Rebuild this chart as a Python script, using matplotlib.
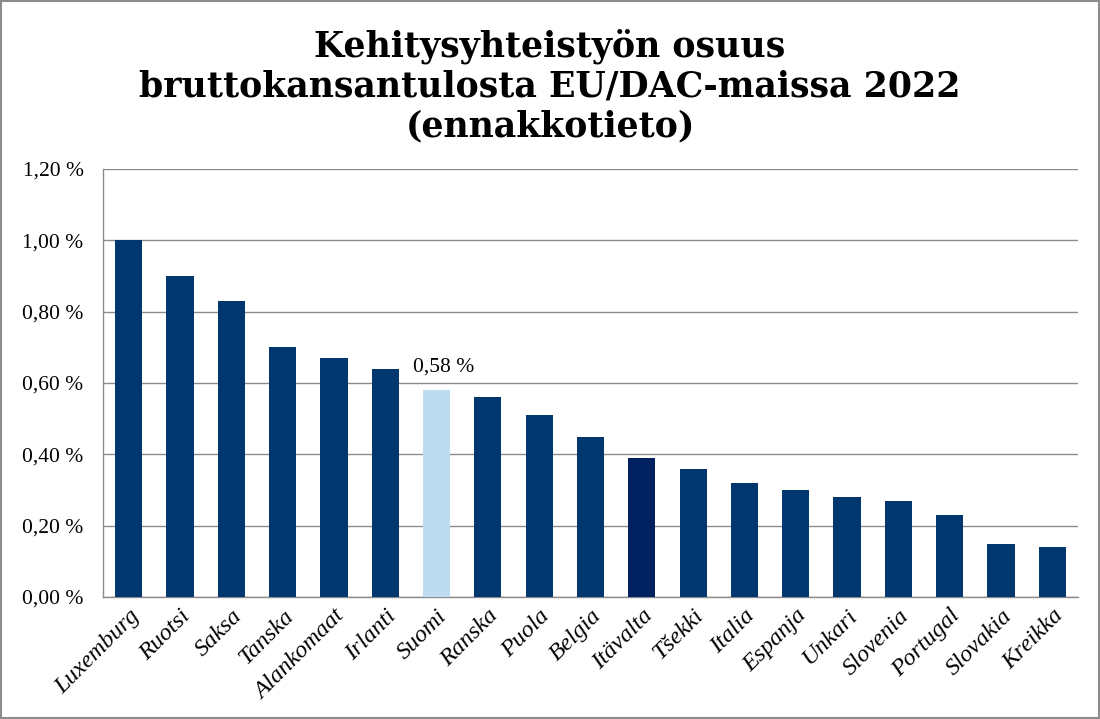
import matplotlib
matplotlib.use("Agg")
import matplotlib.pyplot as plt
from matplotlib.patches import Rectangle

countries = ["Luxemburg", "Ruotsi", "Saksa", "Tanska", "Alankomaat", "Irlanti", "Suomi",
             "Ranska", "Puola", "Belgia", "Itävalta", "Tšekki", "Italia", "Espanja",
             "Unkari", "Slovenia", "Portugal", "Slovakia", "Kreikka"]
values = [1.00, 0.90, 0.83, 0.70, 0.67, 0.64, 0.58, 0.56, 0.51, 0.45, 0.39, 0.36,
          0.32, 0.30, 0.28, 0.27, 0.23, 0.15, 0.14]
yticks = [0.0, 0.2, 0.4, 0.6, 0.8, 1.0, 1.2]
ytick_labels = ["0,00 %", "0,20 %", "0,40 %", "0,60 %", "0,80 %", "1,00 %", "1,20 %"]
title = "Kehitysyhteistyön osuus\nbruttokansantulosta EU/DAC-maissa 2022\n(ennakkotieto)"
highlight = "Suomi"
highlight_label = "0,58 %"

base_color = "#02366F"
colors = []
for c in countries:
    if c == "Suomi":
        colors.append("#BDDCF2")
    elif c == "Itävalta":
        colors.append("#012060")
    else:
        colors.append(base_color)

fig = plt.figure(figsize=(11, 7.19), dpi=100)
ax = fig.add_axes([103/1100, 1 - 597/719, (1078-103)/1100, (597-169)/719])

x = list(range(len(countries)))
ax.bar(x, values, width=0.53, color=colors, zorder=3)
ax.set_xlim(-0.5, len(countries) - 0.5)
ax.set_ylim(0, 1.2)
ax.set_yticks(yticks)
ax.set_yticklabels(ytick_labels, fontfamily="Liberation Serif", fontsize=15.5)
ax.set_xticks(x)
ax.set_xticklabels(countries, rotation=45, ha="right", rotation_mode="anchor",
                   fontfamily="Liberation Serif", fontstyle="italic", fontsize=17.5)
ax.tick_params(axis="both", length=0)
ax.tick_params(axis="y", pad=14)
ax.tick_params(axis="x", pad=6)
ax.grid(axis="y", color="#8C8C8C", linewidth=1, zorder=0)
for s in ["top", "right"]:
    ax.spines[s].set_visible(False)
for s in ["left", "bottom"]:
    ax.spines[s].set_color("#8C8C8C")
    ax.spines[s].set_linewidth(1)

i = countries.index(highlight)
ax.annotate(highlight_label, (i, values[i]), xytext=(5, 10), textcoords="offset points",
            ha="center", va="bottom", fontfamily="Liberation Serif", fontsize=15.5)

fig.text(0.5, 1 - 86/719, title, ha="center", va="center", fontfamily="DejaVu Serif",
         fontweight="bold", fontsize=25, linespacing=1.2)

fig.patches.append(Rectangle((0.001, 0.001), 0.998, 0.997, transform=fig.transFigure,
                             fill=False, edgecolor="#8C8C8C", linewidth=1.5))

fig.savefig("out.png", dpi=100)
